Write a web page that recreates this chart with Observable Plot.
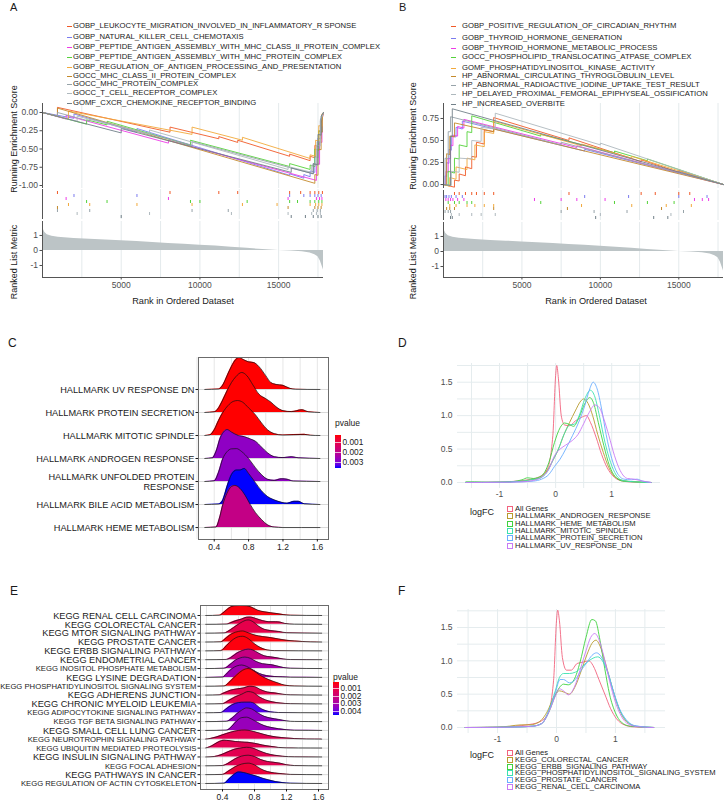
<!DOCTYPE html>
<html>
<head>
<meta charset="utf-8">
<script src="https://cdn.jsdelivr.net/npm/d3@7"></script>
<script src="https://cdn.jsdelivr.net/npm/@observablehq/plot@0.6"></script>
<style>
  html, body { margin: 0; padding: 0; background: #fff; }
  #fig { position: relative; width: 725px; height: 802px; overflow: hidden; font-family: "Liberation Sans", Arial, sans-serif; }
  #fig svg { position: absolute; }
  .t { position: absolute; line-height: 1; white-space: pre; }
  .key { position: absolute; box-sizing: border-box; width: 6px; height: 6px; border: 1px solid; background: #fff; }
</style>
</head>
<body>
<div id="fig"></div>
<script>
// ---------------- GSEA running-score panels (A, B) ----------------
const setsA = [
  "GOBP_LEUKOCYTE_MIGRATION_INVOLVED_IN_INFLAMMATORY_R SPONSE",
  "GOBP_NATURAL_KILLER_CELL_CHEMOTAXIS",
  "GOBP_PEPTIDE_ANTIGEN_ASSEMBLY_WITH_MHC_CLASS_II_PROTEIN_COMPLEX",
  "GOBP_PEPTIDE_ANTIGEN_ASSEMBLY_WITH_MHC_PROTEIN_COMPLEX",
  "GOBP_REGULATION_OF_ANTIGEN_PROCESSING_AND_PRESENTATION",
  "GOCC_MHC_CLASS_II_PROTEIN_COMPLEX",
  "GOCC_MHC_PROTEIN_COMPLEX",
  "GOCC_T_CELL_RECEPTOR_COMPLEX",
  "GOMF_CXCR_CHEMOKINE_RECEPTOR_BINDING"
];
const setsB = [
  "GOBP_POSITIVE_REGULATION_OF_CIRCADIAN_RHYTHM",
  "GOBP_THYROID_HORMONE_GENERATION",
  "GOBP_THYROID_HORMONE_METABOLIC_PROCESS",
  "GOCC_PHOSPHOLIPID_TRANSLOCATING_ATPASE_COMPLEX",
  "GOMF_PHOSPHATIDYLINOSITOL_KINASE_ACTIVITY",
  "HP_ABNORMAL_CIRCULATING_THYROGLOBULIN_LEVEL",
  "HP_ABNORMAL_RADIOACTIVE_IODINE_UPTAKE_TEST_RESULT",
  "HP_DELAYED_PROXIMAL_FEMORAL_EPIPHYSEAL_OSSIFICATION",
  "HP_INCREASED_OVERBITE"
];
const setColors = ["#F05A28", "#7B7BEF", "#EE3BE8", "#55D23A", "#F2A93B", "#C48A2C", "#97A3A9", "#AEB8BD", "#728089"];

// running enrichment score vertices: [rank, score]
const esA = [
  [[0,0],[950,-0.05],[950,0.07],[8100,-0.27],[8100,-0.2],[11200,-0.36],[11200,-0.33],[12400,-0.41],[12400,-0.38],[15700,-0.6],[15700,-0.57],[17000,-0.66],[17000,-0.6],[17300,-0.62],[17300,-0.45],[17550,-0.47],[17550,-0.25],[17780,-0.27],[17780,-0.02],[17850,0]],
  [[0,0],[2000,-0.08],[2000,-0.02],[6000,-0.27],[6000,-0.22],[15700,-0.86],[15700,-0.84],[16600,-0.9],[16600,-0.85],[17000,-0.88],[17000,-0.8],[17300,-0.82],[17300,-0.6],[17500,-0.62],[17500,-0.35],[17700,-0.36],[17700,-0.1],[17850,0]],
  [[0,0],[1500,-0.09],[1500,-0.04],[8000,-0.42],[8000,-0.38],[17400,-0.93],[17400,-0.7],[17600,-0.71],[17600,-0.4],[17750,-0.41],[17750,-0.1],[17850,0]],
  [[0,0],[2800,-0.16],[2800,-0.1],[4100,-0.17],[4100,-0.12],[9400,-0.45],[9400,-0.38],[15700,-0.74],[15700,-0.7],[17000,-0.78],[17000,-0.72],[17300,-0.74],[17300,-0.5],[17550,-0.52],[17550,-0.25],[17750,-0.27],[17750,-0.05],[17850,0]],
  [[0,0],[1650,-0.09],[1650,0.02],[9500,-0.3],[9500,-0.2],[12700,-0.38],[12700,-0.34],[17000,-0.63],[17000,-0.58],[17350,-0.6],[17350,-0.38],[17550,-0.39],[17550,-0.18],[17750,-0.19],[17750,-0.02],[17850,0]],
  [[0,0],[950,-0.05],[950,0.06],[17300,-0.97],[17300,-0.85],[17500,-0.86],[17500,-0.5],[17700,-0.51],[17700,-0.15],[17850,0]],
  [[0,0],[950,-0.05],[950,0.0],[3000,-0.12],[3000,-0.08],[9500,-0.45],[9500,-0.4],[17200,-0.84],[17200,-0.7],[17450,-0.71],[17450,-0.4],[17650,-0.41],[17650,-0.1],[17850,0]],
  [[0,0],[2200,-0.12],[2200,-0.05],[6800,-0.3],[6800,-0.24],[15600,-0.78],[15600,-0.74],[17100,-0.82],[17100,-0.72],[17400,-0.73],[17400,-0.45],[17650,-0.46],[17650,-0.12],[17850,0]],
  [[0,0],[5000,-0.28],[5000,-0.22],[15800,-0.82],[15800,-0.76],[17200,-0.84],[17200,-0.7],[17500,-0.72],[17500,-0.3],[17700,-0.31],[17700,-0.05],[17850,0]]
];
const hitsA = [
  [950,8100,11200,12400,15700,16400,17000,17300,17550,17780],
  [2000,6000,15700,16600,17000,17300,17500,17700],
  [1500,8000,15600,17400,17600,17750],
  [2800,4100,9400,10000,13000,15700,16200,17000,17300,17550,17750],
  [1650,3000,6000,9500,12700,14900,17000,17350,17550,17750],
  [950,15600,17300,17500,17700],
  [950,3000,9500,11800,17200,17450,17650],
  [2200,6800,12000,15600,17100,17400,17650],
  [5000,15800,16700,17200,17500,17700]
];
const esB = [
  [[0,0],[700,-0.03],[700,0.05],[1000,0.04],[1000,0.12],[1400,0.1],[1400,0.2],[1800,0.18],[1800,0.32],[2100,0.31],[2100,0.48],[2600,0.46],[2600,0.62],[3200,0.6],[3200,0.76],[8000,0.5],[8000,0.53],[12600,0.26],[12600,0.28],[15000,0.14],[15000,0.16],[17850,0]],
  [[0,0],[100,0.0],[100,0.1],[200,0.09],[200,0.25],[350,0.24],[350,0.4],[500,0.39],[500,0.55],[800,0.54],[800,0.65],[1200,0.63],[1200,0.72],[9000,0.38],[9000,0.4],[15000,0.13],[15000,0.15],[17850,0]],
  [[0,0],[150,0.0],[150,0.15],[300,0.14],[300,0.3],[450,0.29],[450,0.45],[600,0.44],[600,0.56],[900,0.55],[900,0.66],[1300,0.64],[1300,0.74],[8500,0.42],[8500,0.44],[16500,0.06],[17850,0]],
  [[0,0],[300,-0.01],[300,0.15],[700,0.13],[700,0.3],[1000,0.29],[1000,0.45],[1500,0.43],[1500,0.6],[1800,0.59],[1800,0.78],[6200,0.55],[6200,0.57],[10900,0.36],[10900,0.38],[13000,0.27],[13000,0.29],[17850,0]],
  [[0,0],[400,-0.02],[400,0.08],[800,0.06],[800,0.2],[1500,0.17],[1500,0.3],[2000,0.28],[2000,0.45],[2600,0.43],[2600,0.6],[3200,0.58],[3200,0.72],[8800,0.44],[8800,0.46],[12000,0.3],[12000,0.32],[17850,0]],
  [[0,0],[200,0.0],[200,0.35],[400,0.34],[400,0.55],[700,0.54],[700,0.7],[3200,0.6],[3200,0.63],[17850,0]],
  [[0,0],[100,0.0],[100,0.3],[300,0.29],[300,0.6],[450,0.6],[450,0.77],[7500,0.45],[7500,0.48],[17850,0]],
  [[0,0],[500,-0.01],[500,0.15],[1000,0.14],[1000,0.3],[1800,0.29],[1800,0.5],[2400,0.49],[2400,0.65],[3300,0.63],[3300,0.81],[10000,0.45],[10000,0.47],[17850,0]],
  [[0,0],[450,-0.01],[450,0.55],[560,0.55],[560,0.86],[17850,0]]
];
const hitsB = [
  [700,1000,1400,1800,2100,2600,3200,8000,12600,13500,15000,15700],
  [100,200,350,500,800,1200,9000,11800,15000,16800],
  [150,300,450,600,900,1300,5800,7500,8500,10300,16000,16500,16900],
  [300,700,1000,1500,1800,6200,10900,13000,14700],
  [400,800,1500,2000,2600,3200,8800,12000,14200,15800],
  [200,400,700,3200,7900,13900],
  [100,300,450,7500,9600,11700,15300],
  [500,1000,1800,2400,3300,10000,14500],
  [450,560,9700,13400,14300]
];

// ranked list metric: [rank, metric]
const metricCurve = [[0,1.75],[60,1.4],[150,1.2],[300,1.05],[600,0.95],[1000,0.88],[2000,0.8],[3000,0.74],[4000,0.69],[5000,0.64],[6000,0.59],[7000,0.53],[8000,0.47],[9000,0.41],[10000,0.35],[11000,0.29],[12000,0.22],[13000,0.14],[14000,0.06],[15000,0.0],[15800,-0.03],[16500,-0.08],[17000,-0.17],[17300,-0.28],[17500,-0.42],[17650,-0.7],[17750,-1.0],[17850,-1.3]];

// ---------------- Ridge panels (C, E) ----------------
const hallmarkRows = ["HALLMARK UV RESPONSE DN", "HALLMARK PROTEIN SECRETION", "HALLMARK MITOTIC SPINDLE", "HALLMARK ANDROGEN RESPONSE", "HALLMARK UNFOLDED PROTEIN\nRESPONSE", "HALLMARK BILE ACID METABOLISM", "HALLMARK HEME METABOLISM"];
const hallmarkP = [0.0003, 0.0003, 0.0003, 0.0028, 0.0028, 0.0036, 0.0019];
const hallmarkDensity = [
  [[0.29,0],[0.45,0.02],[0.5,0.2],[0.55,0.6],[0.6,1.0],[0.65,1.3],[0.69,1.39],[0.74,1.3],[0.8,1.2],[0.86,1.17],[0.92,1.0],[1.0,0.6],[1.06,0.3],[1.12,0.22],[1.2,0.18],[1.28,0.05],[1.35,0.01],[1.63,0]],
  [[0.29,0],[0.4,0.03],[0.45,0.2],[0.5,0.55],[0.55,0.95],[0.6,1.3],[0.65,1.55],[0.72,1.74],[0.78,1.6],[0.85,1.2],[0.92,0.8],[1.0,0.6],[1.06,0.45],[1.12,0.25],[1.2,0.08],[1.3,0.04],[1.42,0.12],[1.5,0.03],[1.63,0]],
  [[0.29,0],[0.35,0.03],[0.4,0.25],[0.45,0.65],[0.5,1.0],[0.56,1.3],[0.62,1.48],[0.67,1.52],[0.73,1.45],[0.8,1.2],[0.88,0.9],[0.95,0.55],[1.02,0.25],[1.1,0.08],[1.2,0.02],[1.45,0.05],[1.52,0.01],[1.63,0]],
  [[0.29,0],[0.38,0.03],[0.42,0.3],[0.47,0.9],[0.52,1.2],[0.55,1.26],[0.6,1.15],[0.68,1.0],[0.75,0.95],[0.82,0.85],[0.88,0.75],[0.95,0.5],[1.02,0.25],[1.1,0.08],[1.2,0.04],[1.3,0.08],[1.38,0.03],[1.63,0]],
  [[0.29,0],[0.4,0.03],[0.45,0.4],[0.5,1.0],[0.55,1.3],[0.6,1.42],[0.66,1.43],[0.72,1.3],[0.8,1.0],[0.88,0.6],[0.95,0.3],[1.02,0.1],[1.1,0.05],[1.18,0.12],[1.25,0.1],[1.32,0.02],[1.63,0]],
  [[0.29,0],[0.45,0.02],[0.5,0.2],[0.55,0.8],[0.6,1.3],[0.66,1.5],[0.7,1.5],[0.75,1.57],[0.8,1.35],[0.88,0.95],[0.95,0.6],[1.02,0.35],[1.1,0.2],[1.18,0.1],[1.25,0.06],[1.33,0.14],[1.38,0.14],[1.45,0.03],[1.63,0]],
  [[0.29,0],[0.42,0.02],[0.46,0.4],[0.5,1.0],[0.55,1.5],[0.6,1.78],[0.64,1.83],[0.7,1.7],[0.76,1.4],[0.82,1.0],[0.88,0.65],[0.95,0.35],[1.02,0.12],[1.1,0.02],[1.2,0],[1.63,0]]
];

const keggRows = ["KEGG RENAL CELL CARCINOMA", "KEGG COLORECTAL CANCER", "KEGG MTOR SIGNALING PATHWAY", "KEGG PROSTATE CANCER", "KEGG ERBB SIGNALING PATHWAY", "KEGG ENDOMETRIAL CANCER", "KEGG INOSITOL PHOSPHATE METABOLISM", "KEGG LYSINE DEGRADATION", "KEGG PHOSPHATIDYLINOSITOL SIGNALING SYSTEM", "KEGG ADHERENS JUNCTION", "KEGG CHRONIC MYELOID LEUKEMIA", "KEGG ADIPOCYTOKINE SIGNALING PATHWAY", "KEGG TGF BETA SIGNALING PATHWAY", "KEGG SMALL CELL LUNG CANCER", "KEGG NEUROTROPHIN SIGNALING PATHWAY", "KEGG UBIQUITIN MEDIATED PROTEOLYSIS", "KEGG INSULIN SIGNALING PATHWAY", "KEGG FOCAL ADHESION", "KEGG PATHWAYS IN CANCER", "KEGG REGULATION OF ACTIN CYTOSKELETON"];
const keggLabelLarge = [true, true, true, true, true, true, false, true, false, true, true, false, false, true, false, false, true, false, true, false];
const keggP = [0.0003, 0.0012, 0.0012, 0.0003, 0.0003, 0.0022, 0.003, 0.0031, 0.0003, 0.0012, 0.0012, 0.0042, 0.0034, 0.0033, 0.0013, 0.0013, 0.0013, 0.0013, 0.0009, 0.0045];
const keggDensity = [
  [[0.19,0],[0.36,0.03],[0.42,0.4],[0.48,0.85],[0.55,1.1],[0.62,1.13],[0.7,1.1],[0.76,0.95],[0.84,0.6],[0.92,0.42],[1.0,0.32],[1.08,0.22],[1.16,0.1],[1.25,0.03],[1.64,0]],
  [[0.19,0],[0.45,0.03],[0.52,0.25],[0.58,0.45],[0.64,0.6],[0.7,0.8],[0.75,0.82],[0.82,0.65],[0.9,0.42],[0.98,0.3],[1.06,0.3],[1.12,0.25],[1.18,0.1],[1.3,0.02],[1.64,0]],
  [[0.19,0],[0.42,0.03],[0.5,0.4],[0.58,0.9],[0.65,1.3],[0.72,1.5],[0.78,1.3],[0.85,0.8],[0.92,0.45],[1.0,0.3],[1.1,0.2],[1.2,0.05],[1.64,0]],
  [[0.19,0],[0.38,0.03],[0.45,0.5],[0.52,0.95],[0.6,1.2],[0.65,1.25],[0.72,1.05],[0.8,0.8],[0.9,0.62],[1.0,0.5],[1.1,0.35],[1.2,0.2],[1.3,0.12],[1.4,0.06],[1.5,0.02],[1.64,0]],
  [[0.19,0],[0.38,0.03],[0.45,0.6],[0.52,1.2],[0.6,1.6],[0.65,1.65],[0.72,1.4],[0.8,0.8],[0.88,0.35],[0.96,0.1],[1.05,0.03],[1.64,0]],
  [[0.19,0],[0.45,0.03],[0.52,0.35],[0.58,0.75],[0.65,1.05],[0.72,1.2],[0.78,1.1],[0.85,0.75],[0.92,0.45],[1.0,0.32],[1.08,0.22],[1.16,0.08],[1.25,0.02],[1.64,0]],
  [[0.19,0],[0.42,0.03],[0.5,0.5],[0.56,0.95],[0.62,1.2],[0.68,1.3],[0.75,1.15],[0.82,0.8],[0.9,0.55],[1.0,0.45],[1.08,0.3],[1.16,0.12],[1.25,0.03],[1.64,0]],
  [[0.19,0],[0.4,0.03],[0.46,0.5],[0.52,1.0],[0.58,1.3],[0.64,1.4],[0.7,1.25],[0.78,0.85],[0.86,0.45],[0.95,0.2],[1.05,0.1],[1.15,0.06],[1.25,0.02],[1.64,0]],
  [[0.19,0],[0.42,0.03],[0.5,0.6],[0.58,1.3],[0.65,1.8],[0.72,2.0],[0.78,1.8],[0.86,1.3],[0.94,0.9],[1.02,0.6],[1.1,0.35],[1.18,0.12],[1.3,0.03],[1.64,0]],
  [[0.19,0],[0.36,0.03],[0.42,0.25],[0.5,0.55],[0.58,0.7],[0.66,0.8],[0.74,1.0],[0.8,0.95],[0.88,0.6],[0.96,0.35],[1.05,0.25],[1.15,0.1],[1.25,0.03],[1.64,0]],
  [[0.19,0],[0.4,0.03],[0.48,0.4],[0.56,0.8],[0.64,1.1],[0.72,1.4],[0.78,1.3],[0.86,0.8],[0.94,0.45],[1.02,0.25],[1.12,0.1],[1.25,0.03],[1.64,0]],
  [[0.19,0],[0.38,0.03],[0.44,0.4],[0.52,0.9],[0.6,1.15],[0.68,1.2],[0.75,1.2],[0.8,1.05],[0.86,0.6],[0.92,0.3],[1.0,0.1],[1.1,0.03],[1.64,0]],
  [[0.19,0],[0.45,0.03],[0.52,0.4],[0.58,0.9],[0.64,1.3],[0.7,1.55],[0.76,1.45],[0.84,1.0],[0.92,0.6],[1.0,0.4],[1.1,0.25],[1.2,0.08],[1.3,0.02],[1.64,0]],
  [[0.19,0],[0.45,0.03],[0.52,0.5],[0.58,1.1],[0.64,1.45],[0.7,1.5],[0.76,1.3],[0.84,0.9],[0.92,0.55],[1.0,0.35],[1.1,0.2],[1.2,0.08],[1.3,0.02],[1.64,0]],
  [[0.19,0.02],[0.25,0.1],[0.32,0.25],[0.4,0.5],[0.5,0.8],[0.6,1.0],[0.68,1.05],[0.76,0.95],[0.86,0.7],[0.96,0.45],[1.08,0.25],[1.2,0.15],[1.3,0.08],[1.45,0.04],[1.55,0.03],[1.64,0.02]],
  [[0.19,0.02],[0.24,0.15],[0.3,0.45],[0.36,0.75],[0.42,0.9],[0.48,0.85],[0.56,0.75],[0.64,0.7],[0.72,0.65],[0.8,0.55],[0.9,0.35],[1.0,0.2],[1.1,0.08],[1.2,0.03],[1.35,0.02],[1.64,0.01]],
  [[0.19,0],[0.3,0.05],[0.38,0.25],[0.46,0.55],[0.54,0.85],[0.62,1.0],[0.7,1.1],[0.78,1.0],[0.86,0.7],[0.95,0.4],[1.05,0.2],[1.15,0.08],[1.3,0.02],[1.64,0]],
  [[0.19,0],[0.4,0.03],[0.48,0.35],[0.56,0.8],[0.64,1.1],[0.72,1.2],[0.8,1.05],[0.88,0.7],[0.96,0.5],[1.04,0.4],[1.12,0.3],[1.2,0.12],[1.3,0.03],[1.64,0]],
  [[0.19,0],[0.4,0.03],[0.48,0.45],[0.56,0.9],[0.64,1.2],[0.72,1.3],[0.8,1.1],[0.88,0.65],[0.96,0.35],[1.05,0.2],[1.15,0.1],[1.25,0.03],[1.64,0]],
  [[0.19,0],[0.42,0.03],[0.48,0.5],[0.54,1.0],[0.6,1.3],[0.66,1.25],[0.74,1.05],[0.82,0.85],[0.9,0.6],[0.98,0.4],[1.06,0.22],[1.15,0.1],[1.25,0.03],[1.64,0]]
];

// ---------------- logFC density panels (D, F) ----------------
const densityColors = ["#F2637E", "#B89B2E", "#3FD23F", "#3BE2B0", "#6AAEFF", "#C87BF5"];
const hallmarkSeries = ["All Genes", "HALLMARK_ANDROGEN_RESPONSE", "HALLMARK_HEME_METABOLISM", "HALLMARK_MITOTIC_SPINDLE", "HALLMARK_PROTEIN_SECRETION", "HALLMARK_UV_RESPONSE_DN"];
const hallmarkLogFC = [
  [[-1.6,0],[-1.0,0.005],[-0.7,0.02],[-0.5,0.04],[-0.3,0.08],[-0.15,0.2],[-0.05,0.7],[0.0,1.6],[0.02,1.75],[0.05,1.55],[0.1,1.0],[0.16,0.86],[0.25,0.85],[0.35,0.92],[0.45,0.97],[0.55,1.0],[0.62,0.9],[0.72,0.68],[0.82,0.42],[0.92,0.22],[1.02,0.1],[1.15,0.03],[1.3,0.01],[1.7,0]],
  [[-1.6,0],[-1.0,0.005],[-0.6,0.02],[-0.45,0.04],[-0.3,0.06],[-0.15,0.18],[-0.05,0.33],[0.05,0.5],[0.15,0.72],[0.25,0.9],[0.35,1.07],[0.45,1.22],[0.5,1.25],[0.58,1.18],[0.66,1.0],[0.75,0.72],[0.85,0.45],[0.95,0.22],[1.05,0.09],[1.2,0.03],[1.4,0.01],[1.7,0]],
  [[-1.6,0.01],[-1.45,0.01],[-1.2,0.003],[-0.9,0.005],[-0.6,0.04],[-0.5,0.07],[-0.4,0.06],[-0.25,0.1],[-0.12,0.3],[-0.02,0.6],[0.08,0.82],[0.16,0.89],[0.24,0.87],[0.32,0.84],[0.42,0.98],[0.52,1.18],[0.61,1.27],[0.68,1.18],[0.76,0.9],[0.86,0.55],[0.96,0.25],[1.06,0.09],[1.2,0.02],[1.4,0.01],[1.7,0]],
  [[-1.6,0],[-1.0,0.004],[-0.6,0.02],[-0.45,0.04],[-0.3,0.06],[-0.15,0.16],[-0.05,0.33],[0.05,0.5],[0.15,0.72],[0.25,0.86],[0.33,0.87],[0.42,1.0],[0.52,1.25],[0.62,1.38],[0.7,1.28],[0.78,1.0],[0.88,0.6],[0.98,0.3],[1.08,0.11],[1.2,0.03],[1.4,0.01],[1.7,0]],
  [[-1.6,0],[-1.0,0.003],[-0.6,0.01],[-0.4,0.02],[-0.25,0.05],[-0.12,0.12],[-0.02,0.24],[0.08,0.35],[0.18,0.5],[0.3,0.7],[0.42,0.92],[0.52,1.15],[0.6,1.38],[0.67,1.5],[0.74,1.4],[0.82,1.1],[0.9,0.72],[1.0,0.36],[1.1,0.14],[1.22,0.05],[1.35,0.04],[1.45,0.05],[1.55,0.02],[1.7,0]],
  [[-1.6,0],[-1.0,0.003],[-0.6,0.01],[-0.4,0.03],[-0.25,0.08],[-0.12,0.2],[-0.02,0.4],[0.08,0.5],[0.18,0.56],[0.3,0.63],[0.4,0.72],[0.5,0.88],[0.6,1.05],[0.7,1.16],[0.78,1.12],[0.86,0.95],[0.95,0.7],[1.05,0.4],[1.15,0.18],[1.28,0.06],[1.4,0.05],[1.5,0.03],[1.7,0]]
];
const keggSeries = ["All Genes", "KEGG_COLORECTAL_CANCER", "KEGG_ERBB_SIGNALING_PATHWAY", "KEGG_PHOSPHATIDYLINOSITOL_SIGNALING_SYSTEM", "KEGG_PROSTATE_CANCER", "KEGG_RENAL_CELL_CARCINOMA"];
const keggLogFC = [
  [[-1.55,0],[-1.0,0.005],[-0.7,0.02],[-0.5,0.04],[-0.3,0.08],[-0.15,0.2],[-0.05,0.7],[0.0,1.6],[0.02,1.76],[0.05,1.6],[0.1,1.05],[0.17,0.86],[0.25,0.86],[0.35,0.96],[0.45,0.98],[0.55,1.0],[0.62,0.93],[0.72,0.72],[0.82,0.5],[0.92,0.28],[1.02,0.13],[1.15,0.04],[1.3,0.01],[1.65,0]],
  [[-1.55,0],[-1.0,0.005],[-0.8,0.02],[-0.6,0.04],[-0.45,0.04],[-0.3,0.08],[-0.15,0.25],[-0.05,0.45],[0.05,0.55],[0.13,0.53],[0.22,0.5],[0.32,0.62],[0.42,0.85],[0.52,1.1],[0.6,1.26],[0.67,1.31],[0.74,1.22],[0.82,1.0],[0.92,0.68],[1.02,0.38],[1.12,0.17],[1.25,0.05],[1.4,0.01],[1.65,0]],
  [[-1.55,0],[-1.0,0.003],[-0.6,0.01],[-0.4,0.02],[-0.25,0.06],[-0.12,0.25],[-0.02,0.48],[0.05,0.6],[0.12,0.65],[0.2,0.64],[0.3,0.72],[0.4,0.98],[0.5,1.35],[0.6,1.62],[0.66,1.6],[0.74,1.3],[0.82,0.88],[0.9,0.5],[1.0,0.22],[1.1,0.08],[1.25,0.02],[1.65,0]],
  [[-1.55,0],[-1.0,0.003],[-0.6,0.01],[-0.4,0.02],[-0.25,0.06],[-0.12,0.28],[-0.02,0.55],[0.05,0.75],[0.12,0.81],[0.22,0.81],[0.32,0.83],[0.42,0.9],[0.52,0.98],[0.62,1.04],[0.7,1.06],[0.78,1.0],[0.88,0.8],[0.98,0.5],[1.08,0.25],[1.2,0.09],[1.35,0.02],[1.65,0]],
  [[-1.55,0],[-1.0,0.003],[-0.6,0.01],[-0.4,0.02],[-0.25,0.06],[-0.12,0.27],[-0.02,0.52],[0.06,0.72],[0.12,0.72],[0.22,0.67],[0.32,0.72],[0.42,0.86],[0.52,0.98],[0.6,1.08],[0.68,1.12],[0.76,1.06],[0.86,0.86],[0.96,0.56],[1.06,0.3],[1.18,0.12],[1.32,0.03],[1.65,0]],
  [[-1.55,0],[-1.0,0.003],[-0.6,0.01],[-0.4,0.02],[-0.25,0.06],[-0.12,0.25],[-0.02,0.47],[0.05,0.58],[0.12,0.55],[0.2,0.49],[0.3,0.6],[0.4,0.86],[0.5,1.15],[0.58,1.35],[0.65,1.41],[0.72,1.32],[0.8,1.08],[0.9,0.7],[1.0,0.38],[1.1,0.17],[1.22,0.05],[1.4,0.01],[1.65,0]]
];

// ---------------- helpers ----------------
const fig = document.getElementById("fig");
const FONT = '"Liberation Sans", Arial, sans-serif';

function place(node, left, top) {
  node.style.position = "absolute";
  node.style.left = left + "px";
  node.style.top = top + "px";
  fig.appendChild(node);
  return node;
}
function text(str, x, y, {size = 8.5, anchor = "start", color = "#1a1a1a", rotate = 0} = {}) {
  const d = document.createElement("div");
  d.className = "t";
  d.textContent = str;
  d.style.left = x + "px";
  d.style.top = y + "px";
  d.style.fontSize = size + "px";
  d.style.color = color;
  const tx = anchor === "start" ? "0" : anchor === "middle" ? "-50%" : "-100%";
  d.style.transform = `translate(${tx},-50%)` + (rotate ? ` rotate(${rotate}deg)` : "");
  fig.appendChild(d);
  return d;
}
const styleFor = (color) => ({fontFamily: FONT, fontSize: "8.5px", background: "transparent", overflow: "visible", color});

// ---------------- GSEA panel builder ----------------
function gseaPanel({sets, es, hits, frameLeft, frameRight, esTop, esBottom, esDomain, esTicks, rugTop, rugBottom, rkTop, rkBottom, rkDomain}) {
  const mL = 40, mR = 2;
  const width = mL + (frameRight - frameLeft) + mR;
  const xDomain = [0, 17850];
  const grid = [2500, 5000, 7500, 10000, 12500, 15000, 17500];
  const color = {domain: sets, range: setColors};
  const esData = es.flatMap((pts, i) => pts.map(([rank, score]) => ({set: sets[i], rank, score})));
  const hitData = hits.flatMap((rs, i) => rs.map((rank) => ({set: sets[i], rank})));
  const metricData = metricCurve.map(([rank, metric]) => ({rank, metric}));

  const esPlot = Plot.plot({
    width, height: 8 + (esBottom - esTop) + 2,
    marginLeft: mL, marginRight: mR, marginTop: 8, marginBottom: 2,
    style: styleFor("#4D4D4D"),
    x: {domain: xDomain, axis: null},
    y: {domain: esDomain, ticks: esTicks, tickFormat: (d) => d.toFixed(2), tickSize: 2.5, tickPadding: 2, label: null},
    color,
    marks: [
      Plot.gridX(grid, {stroke: "#E4EAEC", strokeOpacity: 1}),
      Plot.line(esData, {x: "rank", y: "score", z: "set", stroke: "set", strokeWidth: 0.9}),
      Plot.ruleX([0], {stroke: "#555"})
    ]
  });
  place(esPlot, frameLeft - mL, esTop - 8);

  const rugPlot = Plot.plot({
    width, height: rugBottom - rugTop,
    marginLeft: mL, marginRight: mR, marginTop: 0, marginBottom: 0,
    style: styleFor("#4D4D4D"),
    x: {domain: xDomain, axis: null},
    y: {domain: sets, axis: null, padding: 0},
    color,
    marks: [
      Plot.gridX(grid, {stroke: "#E4EAEC", strokeOpacity: 1}),
      Plot.tickX(hitData, {x: "rank", y: "set", stroke: "set", strokeWidth: 1}),
      Plot.ruleX([0], {stroke: "#555"})
    ]
  });
  place(rugPlot, frameLeft - mL, rugTop);

  const rkPlot = Plot.plot({
    width, height: 2 + (rkBottom - rkTop) + 20,
    marginLeft: mL, marginRight: mR, marginTop: 2, marginBottom: 20,
    style: styleFor("#4D4D4D"),
    x: {domain: xDomain, ticks: [5000, 10000, 15000], tickFormat: (d) => String(d), tickSize: 2.5, tickPadding: 2, label: null},
    y: {domain: rkDomain, ticks: [-1, 0, 1], tickFormat: (d) => String(d), tickSize: 2.5, tickPadding: 2, label: null},
    marks: [
      Plot.gridX(grid, {stroke: "#E4EAEC", strokeOpacity: 1}),
      Plot.areaY(metricData, {x: "rank", y: "metric", fill: "#BCC4C6"}),
      Plot.ruleX([0], {stroke: "#555"}),
      Plot.ruleY([rkDomain[0]], {stroke: "#555"})
    ]
  });
  place(rkPlot, frameLeft - mL, rkTop - 2);
}

gseaPanel({sets: setsA, es: esA, hits: hitsA, frameLeft: 42, frameRight: 323,
  esTop: 103, esBottom: 188, esDomain: [-1.041, 0.123], esTicks: [-1, -0.75, -0.5, -0.25, 0],
  rugTop: 189, rugBottom: 219, rkTop: 221, rkBottom: 277, rkDomain: [-1.8, 1.93]});
gseaPanel({sets: setsB, es: esB, hits: hitsB, frameLeft: 443, frameRight: 723,
  esTop: 103, esBottom: 188, esDomain: [-0.045, 0.92], esTicks: [0, 0.25, 0.5, 0.75],
  rugTop: 190, rugBottom: 220, rkTop: 222, rkBottom: 277, rkDomain: [-1.73, 1.93]});

// legends of set colours
const legendYA = [26, 36.5, 47, 57, 67, 75.5, 84, 93, 103];
setsA.forEach((s, i) => {
  const dash = document.createElement("div");
  dash.style.cssText = `width:5px;height:1px;background:${setColors[i]};`;
  place(dash, 67, legendYA[i]);
  text(s, 73, legendYA[i], {size: 7.7});
});
const legendYB = [26, 38, 48, 57, 68, 76, 85, 94, 104];
setsB.forEach((s, i) => {
  const dash = document.createElement("div");
  dash.style.cssText = `width:5px;height:1px;background:${setColors[i]};`;
  place(dash, 451, legendYB[i]);
  text(s, 462, legendYB[i], {size: 7.7});
});

// axis titles of the GSEA panels
text("Running Enrichment Score", 14, 139, {size: 9, anchor: "middle", rotate: -90});
text("Ranked List Metric", 14, 262, {size: 9, anchor: "middle", rotate: -90});
text("Rank in Ordered Dataset", 183, 302, {size: 9.2, anchor: "middle"});
text("Running Enrichment Score", 413, 136, {size: 9, anchor: "middle", rotate: -90});
text("Ranked List Metric", 413, 262, {size: 9, anchor: "middle", rotate: -90});
text("Rank in Ordered Dataset", 596, 302, {size: 9.2, anchor: "middle"});

// ---------------- ridge panel builder ----------------
function ridgePanel({rows, pvals, shapes, left, top, frameW, frameH, mL, xDomain, yDomain, pDomain, labelSize}) {
  const n = rows.length;
  const base = rows.map((_, i) => n - 1 - i);
  const color = {type: "linear", domain: pDomain, range: ["#FF0000", "#0000FF"], interpolate: "lab"};
  const marks = [
    Plot.gridX([0.2, 0.4, 0.6, 0.8, 1.0, 1.2, 1.4, 1.6], {stroke: "#E6E6E6", strokeOpacity: 1}),
    Plot.gridY(base, {stroke: "#D9D9D9", strokeOpacity: 1})
  ];
  rows.forEach((r, i) => {
    const d = shapes[i].map(([x, h]) => ({x, y1: base[i], y2: base[i] + h, p: pvals[i]}));
    marks.push(
      Plot.areaY(d, {x: "x", y1: "y1", y2: "y2", fill: "p", curve: "monotone-x"}),
      Plot.lineY(d, {x: "x", y: "y2", stroke: "#111", strokeWidth: 0.7, curve: "monotone-x"})
    );
  });
  marks.push(Plot.frame({stroke: "#6b6b6b"}));
  marks.push(Plot.axisX({ticks: [0.4, 0.8, 1.2, 1.6], tickFormat: (d) => d.toFixed(1), tickSize: 2.5, tickPadding: 1.5, fontSize: 8.5, label: null}));
  const groups = d3.groups(base, (b) => labelSize(n - 1 - b));
  for (const [size, ticks] of groups) {
    marks.push(Plot.axisY({ticks, tickFormat: (b) => rows[n - 1 - b], tickSize: 2.5, tickPadding: 1.5, fontSize: size, label: null, lineHeight: 1.1}));
  }
  const plot = Plot.plot({
    width: mL + frameW + 8, height: 6 + frameH + 20,
    marginLeft: mL, marginRight: 8, marginTop: 6, marginBottom: 20,
    style: styleFor("#1a1a1a"),
    x: {domain: xDomain},
    y: {domain: yDomain},
    color,
    marks
  });
  place(plot, left - mL, top - 6);
}

ridgePanel({rows: hallmarkRows, pvals: hallmarkP, shapes: hallmarkDensity,
  left: 198, top: 357, frameW: 130, frameH: 182, mL: 198,
  xDomain: [0.217, 1.73], yDomain: [-0.52, 7.39], pDomain: [0.0003, 0.0036], labelSize: () => 9.2});
ridgePanel({rows: keggRows, pvals: keggP, shapes: keggDensity,
  left: 200, top: 605, frameW: 128, frameH: 184, mL: 200,
  xDomain: [0.125, 1.725], yDomain: [-0.68, 20.13], pDomain: [0.0002, 0.0045], labelSize: (i) => keggLabelLarge[i] ? 9.2 : 7.7});

// p-value colour bars
function pvalueLegend({x, titleY, barTop, barBottom, domain, ticks}) {
  const interp = d3.interpolateLab("#FF0000", "#0000FF");
  text("pvalue", x, titleY, {size: 8.5});
  const bar = document.createElement("div");
  bar.style.cssText = `width:6px;height:${barBottom - barTop}px;background:linear-gradient(to bottom, ${d3.range(0, 1.0001, 0.1).map((t) => interp(t)).join(",")});`;
  place(bar, x, barTop);
  const yOf = d3.scaleLinear().domain(domain).range([barTop, barBottom]);
  ticks.forEach((p) => {
    const tick = document.createElement("div");
    tick.style.cssText = "width:6px;height:1px;background:rgba(255,255,255,0.7);";
    place(tick, x, yOf(p));
    text(p.toFixed(3), x + 7.5, yOf(p), {size: 8.3});
  });
}
pvalueLegend({x: 335, titleY: 423, barTop: 435, barBottom: 468, domain: [0.0003, 0.0036], ticks: [0.001, 0.002, 0.003]});
pvalueLegend({x: 333, titleY: 677, barTop: 682, barBottom: 715, domain: [0.0002, 0.0045], ticks: [0.001, 0.002, 0.003, 0.004]});

// ---------------- density panel builder ----------------
function densityPanel({series, curves, frameLeft, frameTop, frameW, frameH, xDomain, yDomain, legendTop, legendStep}) {
  const mL = 30, mT = 4, mB = 16, mR = 6;
  const data = curves.flatMap((pts, i) => pts.map(([x, y]) => ({series: series[i], x, y})));
  const plot = Plot.plot({
    width: mL + frameW + mR, height: mT + frameH + mB,
    marginLeft: mL, marginRight: mR, marginTop: mT, marginBottom: mB,
    style: styleFor("#4D4D4D"),
    x: {domain: xDomain, ticks: [-1, 0, 1], tickFormat: (d) => String(d), tickSize: 0, tickPadding: 2, label: null},
    y: {domain: yDomain, ticks: [0, 0.5, 1, 1.5], tickFormat: (d) => d.toFixed(1), tickSize: 0, tickPadding: 5, label: null},
    color: {domain: series, range: densityColors},
    marks: [
      Plot.gridX([-1.5, -1, -0.5, 0, 0.5, 1, 1.5], {stroke: "#E5ECEE", strokeOpacity: 1}),
      Plot.gridY([0, 0.25, 0.5, 0.75, 1, 1.25, 1.5, 1.75], {stroke: "#E5ECEE", strokeOpacity: 1}),
      Plot.line(data, {x: "x", y: "y", z: "series", stroke: "series", strokeWidth: 0.9, curve: "monotone-x"})
    ]
  });
  place(plot, frameLeft - mL, frameTop - mT);
  text("logFC", 470, legendTop + legendStep * 0.5 + 2, {size: 9, color: "#1a1a1a"});
  series.forEach((s, i) => {
    const k = document.createElement("div");
    k.className = "key";
    k.style.borderColor = densityColors[i];
    place(k, 507, legendTop + i * legendStep);
    text(s, 515, legendTop + i * legendStep + 3, {size: 7.6});
  });
}
densityPanel({series: hallmarkSeries, curves: hallmarkLogFC, frameLeft: 457, frameTop: 363, frameW: 203, frameH: 125,
  xDomain: [-1.75, 1.87], yDomain: [-0.09, 1.78], legendTop: 506, legendStep: 7.3});
densityPanel({series: keggSeries, curves: keggLogFC, frameLeft: 457, frameTop: 609, frameW: 208, frameH: 124,
  xDomain: [-1.68, 1.85], yDomain: [-0.09, 1.77], legendTop: 750, legendStep: 6.8});

// ---------------- panel tags ----------------
text("A", 10, 7, {size: 11});
text("B", 399, 7, {size: 11});
text("C", 8, 343, {size: 12});
text("D", 398, 343, {size: 12});
text("E", 10, 591, {size: 12});
text("F", 398, 591, {size: 12});
</script>
</body>
</html>
